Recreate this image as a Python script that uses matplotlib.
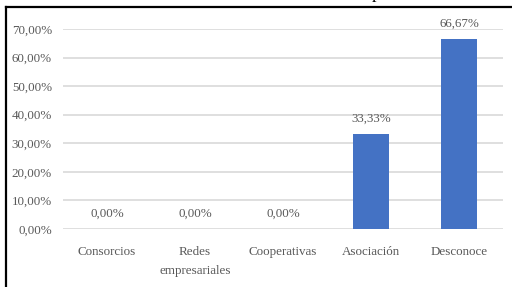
import matplotlib
matplotlib.use('Agg')
import matplotlib.pyplot as plt
from matplotlib.lines import Line2D

categorias = ['Consorcios', 'Redes\nempresariales', 'Cooperativas', 'Asociación', 'Desconoce']
valores = [0.0, 0.0, 0.0, 33.33, 66.67]
yticks = [0, 10, 20, 30, 40, 50, 60, 70]

plt.rcParams['font.family'] = ['Liberation Serif', 'DejaVu Serif']
gris = '#595959'

fig = plt.figure(figsize=(5.12, 2.87), dpi=100)
W, H = 512.0, 287.0
ax = fig.add_axes([63 / W, 58 / H, 440 / W, 200 / H])

x = range(len(categorias))
ax.bar(x, valores, width=0.4, color='#4472c4', zorder=3)
for i, v in zip(x, valores):
    ax.annotate(('%.2f%%' % v).replace('.', ','), (i, v), xytext=(0, 11),
                textcoords='offset points', ha='center', va='center',
                color=gris, fontsize=9.4, annotation_clip=False)

ax.set_xlim(-0.5, len(categorias) - 0.5)
ax.set_ylim(0, 70)
ax.set_yticks(yticks)
ax.set_yticklabels([('%.2f%%' % t).replace('.', ',') for t in yticks])
ax.set_xticks(list(x))
ax.set_xticklabels(categorias, linespacing=1.85, va='top')
ax.tick_params(length=0, labelsize=9.4, colors=gris)
ax.tick_params(axis='y', pad=8)
ax.tick_params(axis='x', pad=12)
ax.yaxis.grid(True, color='#d9d9d9', linewidth=1.2, zorder=0)
for s in ax.spines.values():
    s.set_visible(False)

# marco recortado de la imagen original
fig.add_artist(Line2D([6 / W, 6 / W], [0, 1 - 7 / H], color='black', linewidth=1.6))
fig.add_artist(Line2D([6 / W, 1], [1 - 7 / H, 1 - 7 / H], color='black', linewidth=1.6))
fig.text(376 / W, 1 + 2 / H, 'p', fontsize=13, ha='center', va='baseline')

fig.savefig('out.png', dpi=100)
